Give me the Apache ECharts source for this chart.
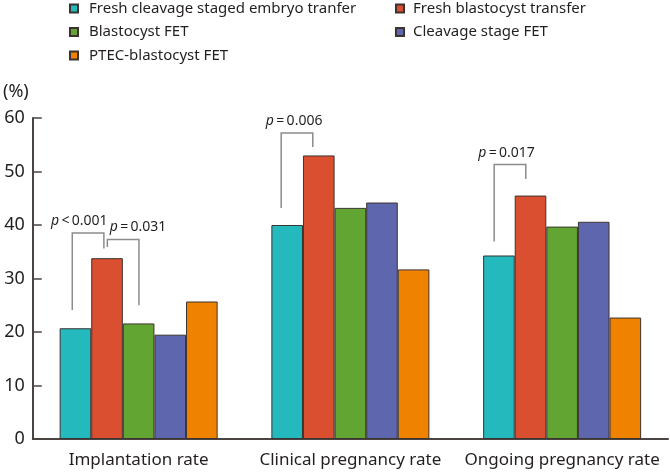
<!DOCTYPE html>
<html>
<head>
<meta charset="utf-8">
<script src="https://cdn.jsdelivr.net/npm/echarts@6/dist/echarts.min.js"></script>
<style>
  html, body { margin: 0; padding: 0; background: #fff; }
  #main { width: 670px; height: 473px; }
</style>
</head>
<body>
<div id="main"></div>
<script>
// categories on the x axis
const categories = ['Implantation rate', 'Clinical pregnancy rate', 'Ongoing pregnancy rate'];
const yTicks = [0, 10, 20, 30, 40, 50, 60];

// series values (%)
const freshCleavage = [20.7, 40.0, 34.3];
const freshBlasto = [33.8, 53.0, 45.5];
const blastoFET = [21.6, 43.2, 39.7];
const cleavageFET = [19.5, 44.2, 40.6];
const ptecFET = [25.7, 31.7, 22.7];

// p-value brackets: [category, from bar, to bar, left end, top, right end] (y in %)
const brackets = [
  [0, 0, 1, 24.1, 38.5, 35.6],
  [0, 1, 2, 35.9, 37.3, 25.0],
  [1, 0, 1, 43.2, 57.2, 54.6],
  [2, 0, 1, 36.9, 51.3, 48.6]
];
const pLabels = ['<\u20090.001', '=\u20090.031', '=\u20090.006', '=\u20090.017'];

// small horizontal nudges (in bar widths) for bracket ends and label
const bracketShift = [-0.1, 0.01, -0.19, -0.15];
const labelShift = [-0.28, 0.47, -0.09, -0.11];

const BAR_W = 31.6;
const FONT = '"Noto Sans", sans-serif';
const TEXT = '#231f20';
const AXIS = '#4a4443';

const names = [
  'Fresh cleavage staged embryo tranfer',
  'Fresh blastocyst transfer',
  'Blastocyst FET',
  'Cleavage stage FET',
  'PTEC-blastocyst FET'
];
const colors = ['#23b9bd', '#da4f2f', '#62a533', '#5e66ad', '#ef8300'];
const values = [freshCleavage, freshBlasto, blastoFET, cleavageFET, ptecFET];

const chart = echarts.init(document.getElementById('main'));

const barSeries = names.map(function (n, i) {
  return {
    name: n,
    type: 'bar',
    data: values[i],
    barWidth: BAR_W,
    barGap: '0%',
    itemStyle: { color: colors[i], borderColor: '#3b3330', borderWidth: 1 },
    animation: false
  };
});

// brackets drawn from data through the axes
const bracketSeries = {
  type: 'custom',
  silent: true,
  animation: false,
  data: brackets,
  encode: { x: 0, y: [3, 4, 5] },
  renderItem: function (params, api) {
    const idx = params.dataIndex;
    const cat = api.value(0);
    const cx = api.coord([cat, 0])[0];
    const shift = bracketShift[idx] * BAR_W;
    const x1 = cx + (api.value(1) - 2) * BAR_W + shift;
    const x2 = cx + (api.value(2) - 2) * BAR_W + shift;
    const yl = api.coord([cat, api.value(3)])[1];
    const yt = api.coord([cat, api.value(4)])[1];
    const yr = api.coord([cat, api.value(5)])[1];
    return {
      type: 'group',
      children: [
        {
          type: 'polyline',
          shape: { points: [[x1, yl], [x1, yt], [x2, yt], [x2, yr]] },
          style: { stroke: '#8c8c8c', lineWidth: 1.5, fill: null }
        },
        {
          type: 'text',
          style: {
            x: (x1 + x2) / 2 + labelShift[idx] * BAR_W,
            y: yt - 12,
            text: '{i|p}{n|\u2009' + pLabels[idx] + '}',
            align: 'center',
            verticalAlign: 'middle',
            rich: {
              i: { fontFamily: FONT, fontStyle: 'italic', fontSize: 14, fill: TEXT },
              n: { fontFamily: FONT, fontSize: 14, fill: TEXT }
            }
          }
        }
      ]
    };
  }
};

const legendBase = {
  orient: 'vertical',
  top: 1,
  padding: 0,
  itemWidth: 8,
  itemHeight: 8,
  itemGap: 8.5,
  icon: 'rect'
};

chart.setOption({
  backgroundColor: '#fff',
  textStyle: { fontFamily: FONT },
  legend: [
    Object.assign({}, legendBase, {
      data: [names[0], names[2], names[4]],
      left: 69,
      textStyle: { fontSize: 15, color: TEXT, padding: [0, 0, 0, 6] }
    }),
    Object.assign({}, legendBase, {
      data: [names[1], names[3]],
      left: 395,
      textStyle: { fontSize: 15, color: TEXT, padding: [0, 0, 0, 4] }
    })
  ],
  grid: { left: 31, right: 2, top: 118, bottom: 34 },
  xAxis: {
    type: 'category',
    data: categories,
    axisLine: { lineStyle: { color: AXIS, width: 2 } },
    axisTick: { show: false },
    axisLabel: { fontSize: 17, color: TEXT, margin: 13, interval: 0 }
  },
  yAxis: {
    type: 'value',
    min: yTicks[0],
    max: yTicks[yTicks.length - 1],
    interval: 10,
    name: '(%)',
    nameLocation: 'end',
    nameGap: 17,
    nameTextStyle: { fontSize: 18, color: TEXT, align: 'right', padding: [0, 4, 0, 0] },
    axisLine: { show: true, lineStyle: { color: AXIS, width: 2 } },
    axisTick: { show: true, inside: true, length: 9, lineStyle: { color: AXIS, width: 1.5 } },
    axisLabel: { fontSize: 18, color: TEXT, margin: 8 },
    splitLine: { show: false }
  },
  series: barSeries.concat([bracketSeries])
});
</script>
</body>
</html>
